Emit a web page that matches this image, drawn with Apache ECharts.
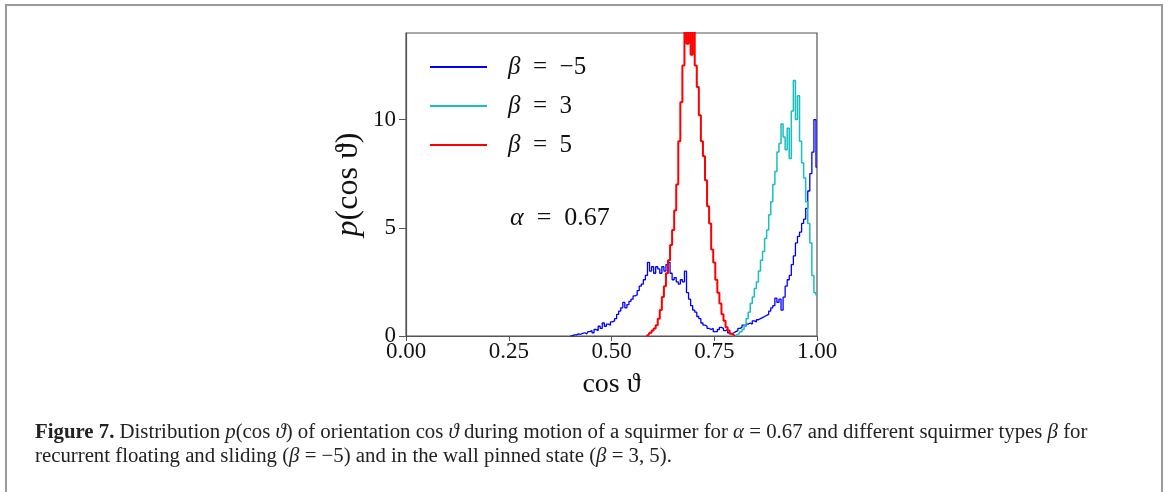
<!DOCTYPE html>
<html>
<head>
<meta charset="utf-8">
<script src="https://cdn.jsdelivr.net/npm/echarts@6/dist/echarts.min.js"></script>
<style>
  html, body { margin: 0; padding: 0; background: #fff; }
  #chart { width: 1168px; height: 492px; }
</style>
</head>
<body>
<div id="chart"></div>
<script>
// ---- data (histogram bin centres start at *Start, spaced by binWidth) ----
const binWidth = 0.005;
const seriesNames = ['β = −5', 'β = 3', 'β = 5'];
const xTicks = [0, 0.25, 0.5, 0.75, 1.0];
const yTicks = [0, 5, 10];

const blueStart = 0.400;
const blueValues = [
  0, 0.02, 0.05, 0.05, 0.1, 0.08, 0.12, 0.15, 0.1, 0.2,
  0.25, 0.15, 0.3, 0.25, 0.45, 0.35, 0.6, 0.45, 0.55, 0.5,
  0.65, 0.7, 0.8, 1.0, 1.15, 1.3, 1.55, 1.3, 1.45, 1.6,
  1.7, 1.85, 1.9, 2.1, 2.3, 2.4, 2.6, 2.8, 3.4, 3.0,
  3.2, 2.9, 3.2, 3.1, 2.9, 3.2, 3.0, 3.3, 3.4, 2.9,
  2.6, 2.7, 2.5, 2.4, 2.6, 2.5, 3.0, 2.0, 1.7, 1.4,
  1.2, 1.1, 0.9, 0.8, 0.6, 0.5, 0.45, 0.35, 0.3, 0.35,
  0.2, 0.2, 0.3, 0.4, 0.35, 0.25, 0.3, 0.15, 0.1, 0.15,
  0.2, 0.25, 0.35, 0.4, 0.5, 0.45, 0.55, 0.6, 0.55, 0.7,
  0.65, 0.75, 0.8, 0.85, 0.9, 0.95, 1.0, 1.15, 1.3, 1.4,
  1.75, 1.55, 1.7, 1.2, 1.8, 2.3, 2.6, 2.8, 3.3, 3.7,
  4.3, 4.6, 4.8, 5.2, 5.4, 5.9, 6.7, 7.5, 8.5, 10.0,
  7.8
];

const cyanStart = 0.795;
const cyanValues = [
  0, 0, 0.05, 0.1, 0.2, 0.3, 0.5, 0.8, 1.1, 1.5,
  1.8, 2.2, 2.5, 3.0, 3.5, 3.9, 4.5, 4.9, 5.6, 6.2,
  7.0, 7.6, 8.5, 8.9, 9.8, 9.2, 8.6, 9.6, 8.2, 10.4,
  11.8, 10.0, 11.1, 9.0, 8.0, 7.3, 6.2, 5.2, 4.3, 2.8,
  2.0, 1.9
];

const redStart = 0.585;
const redValues = [
  0, 0.05, 0.15, 0.25, 0.35, 0.5, 0.8, 1.2, 1.8, 2.3,
  2.9, 3.5, 4.2, 4.9, 5.8, 7.0, 9.0, 10.8, 12.5, 14.5,
  13.5, 14.5, 13.0, 14.5, 12.5, 11.5, 10.2, 9.0, 8.3, 7.2,
  6.0, 5.2, 4.0, 3.4, 2.6, 2.0, 1.5, 1.0, 0.7, 0.4,
  0.25, 0.1, 0.05, 0
];

function toPairs(start, values) {
  return values.map((v, i) => [+(start + i * binWidth).toFixed(4), v]);
}

const serif = "'Liberation Serif', 'DejaVu Serif', serif";
const chart = echarts.init(document.getElementById('chart'), null, { renderer: 'canvas' });

chart.setOption({
  animation: false,
  backgroundColor: '#ffffff',
  grid: {
    left: 406, top: 33, width: 411, height: 303,
    show: true, borderColor: '#555', borderWidth: 1.2, backgroundColor: 'transparent'
  },
  xAxis: {
    type: 'value', min: 0, max: 1, interval: 0.25,
    splitLine: { show: false },
    axisLine: { show: true, onZero: false, lineStyle: { color: '#555', width: 1.2 } },
    axisTick: { show: true, inside: false, length: 5, lineStyle: { color: '#555' }, customValues: xTicks },
    axisLabel: {
      show: true, margin: 4, color: '#111', fontFamily: serif, fontSize: 23,
      customValues: xTicks,
      formatter: v => v.toFixed(2)
    },
    name: 'cos ϑ', nameLocation: 'middle', nameGap: 35,
    nameTextStyle: { color: '#111', fontFamily: serif, fontSize: 28 }
  },
  yAxis: {
    type: 'value', min: 0, max: 14, interval: 5,
    splitLine: { show: false },
    axisLine: { show: true, lineStyle: { color: '#555', width: 1.2 } },
    axisTick: { show: true, inside: false, length: 7, lineStyle: { color: '#555' }, customValues: yTicks },
    axisLabel: {
      show: true, margin: 10, color: '#111', fontFamily: serif, fontSize: 23,
      customValues: yTicks
    },
    name: '{i|p}(cos ϑ)', nameLocation: 'middle', nameGap: 41, nameRotate: 90,
    nameTextStyle: {
      color: '#111', fontFamily: serif, fontSize: 32, lineHeight: 32,
      rich: { i: { fontStyle: 'italic', fontFamily: serif, fontSize: 32, color: '#111' } }
    }
  },
  legend: {
    show: true, orient: 'vertical', left: 430, top: 53, padding: 0,
    icon: 'rect', itemWidth: 57, itemHeight: 2, itemGap: 11,
    data: seriesNames,
    formatter: name => '{i|β}\u2002=\u2002' + name.slice(4),
    textStyle: {
      color: '#111', fontFamily: serif, fontSize: 25, lineHeight: 28,
      padding: [0, 0, 0, 16],
      rich: { i: { fontStyle: 'italic', fontFamily: serif, fontSize: 25, color: '#111' } }
    }
  },
  series: [
    {
      name: seriesNames[0], type: 'line', step: 'middle', symbol: 'none',
      data: toPairs(blueStart, blueValues), clip: true,
      lineStyle: { color: '#0000ff', width: 1.3 }, itemStyle: { color: '#0000ff' }, z: 2
    },
    {
      name: seriesNames[1], type: 'line', step: 'middle', symbol: 'none',
      data: toPairs(cyanStart, cyanValues), clip: true,
      lineStyle: { color: '#17bfbf', width: 1.5 }, itemStyle: { color: '#17bfbf' }, z: 3
    },
    {
      name: seriesNames[2], type: 'line', step: 'middle', symbol: 'none',
      data: toPairs(redStart, redValues), clip: true,
      lineStyle: { color: '#ff0000', width: 2 }, itemStyle: { color: '#ff0000' }, z: 4
    }
  ],
  graphic: [
    {
      type: 'rect', silent: true, z: -1,
      shape: { x: 6, y: 5, width: 1156, height: 500 },
      style: { fill: 'transparent', stroke: '#9a9a9a', lineWidth: 2 }
    },
    {
      type: 'text', left: 510, top: 205,
      style: {
        text: '{i|α}\u2002=\u20020.67', fill: '#111', font: '26px ' + serif,
        rich: { i: { fontStyle: 'italic', fontFamily: serif, fontSize: 26, fill: '#111' } }
      }
    },
    {
      type: 'text', left: 35, top: 421,
      style: {
        text: '{b|Figure 7.} Distribution {i|p}(cos {i|ϑ}) of orientation cos {i|ϑ} during motion of a squirmer for {i|α} = 0.67 and different squirmer types {i|β} for\nrecurrent floating and sliding ({i|β} = −5) and in the wall pinned state ({i|β} = 3, 5).',
        fill: '#222', fontFamily: serif, fontSize: 20.8, lineHeight: 24,
        rich: {
          b: { fontWeight: 'bold', fontFamily: serif, fontSize: 20.8, fill: '#222' },
          i: { fontStyle: 'italic', fontFamily: serif, fontSize: 20.8, fill: '#222' }
        }
      }
    }
  ]
});
</script>
</body>
</html>
